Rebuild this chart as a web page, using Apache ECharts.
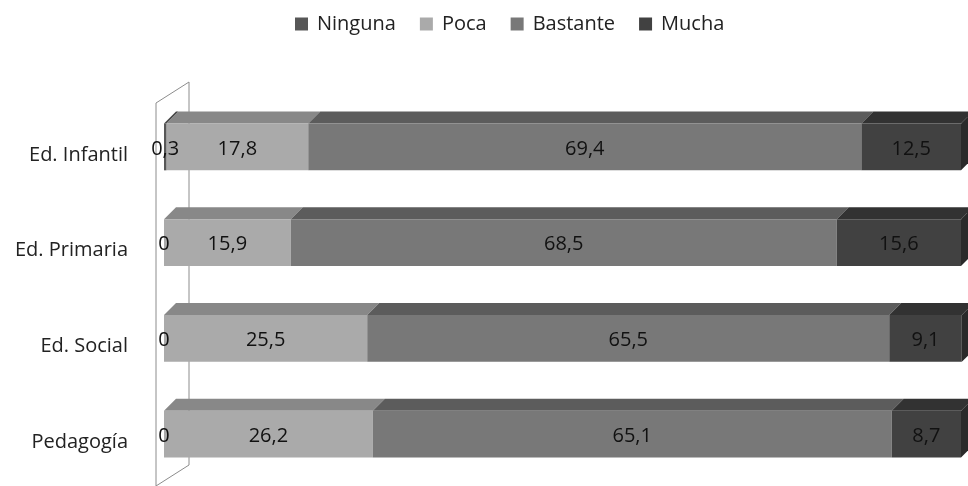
<!DOCTYPE html>
<html>
<head>
<meta charset="utf-8">
<script src="https://cdn.jsdelivr.net/npm/echarts@6/dist/echarts.min.js"></script>
<style>
html, body { margin: 0; padding: 0; background: #fff; }
#chart { width: 968px; height: 486px; }
</style>
</head>
<body>
<div id="chart"></div>
<script>
// Data
var categories = ['Ed. Infantil', 'Ed. Primaria', 'Ed. Social', 'Pedagogía'];
var seriesNames = ['Ninguna', 'Poca', 'Bastante', 'Mucha'];
var ninguna = [0.3, 0, 0, 0];
var poca = [17.8, 15.9, 25.5, 26.2];
var bastante = [69.4, 68.5, 65.5, 65.1];
var mucha = [12.5, 15.6, 9.1, 8.7];

var values = [ninguna, poca, bastante, mucha];

// Face colours (front / top) per series
var frontColors = ['#575757', '#aaaaaa', '#787878', '#414141'];
var topColors = ['#474747', '#888888', '#5c5c5c', '#323232'];
var sideColor = '#2a2a2a';
var DX = 12, DY = 12;

var fmt = function (v) {
    return String(v).replace('.', ',');
};

// Build stacked [start, end, category, value] rows for each series
var stacked = [];
var running = categories.map(function () { return 0; });
values.forEach(function (arr) {
    stacked.push(arr.map(function (v, i) {
        var row = [running[i], running[i] + v, i, v];
        running[i] += v;
        return row;
    }));
});

var renderItem = function (params, api) {
    var s = params.seriesIndex;
    var start = api.value(0), end = api.value(1), ci = api.value(2), v = api.value(3);
    var p0 = api.coord([start, ci]);
    var p1 = api.coord([end, ci]);
    var h = api.size([0, 1])[1] * 0.49;
    var x0 = p0[0], x1 = p1[0];
    var yT = p0[1] - h / 2, yB = p0[1] + h / 2;
    var children = [];
    if (x1 - x0 > 0.5) {
        children.push({
            type: 'polygon',
            shape: { points: [[x0, yT], [x1, yT], [x1 + DX, yT - DY], [x0 + DX, yT - DY]] },
            style: { fill: topColors[s] }
        });
        children.push({
            type: 'rect',
            shape: { x: x0, y: yT, width: x1 - x0, height: yB - yT },
            style: { fill: frontColors[s] }
        });
    }
    if (s === values.length - 1) {
        children.push({
            type: 'polygon',
            shape: { points: [[x1, yT], [x1 + DX, yT - DY], [x1 + DX, yB - DY], [x1, yB]] },
            style: { fill: sideColor }
        });
    }
    children.push({
        type: 'text',
        z2: 10,
        style: {
            text: fmt(v),
            x: (x0 + x1) / 2,
            y: p0[1] + 2,
            align: 'center',
            verticalAlign: 'middle',
            font: '20px "Open Sans"',
            fill: '#111'
        }
    });
    return { type: 'group', children: children };
};

var chart = echarts.init(document.getElementById('chart'));

chart.setOption({
    animation: false,
    textStyle: { fontFamily: '"Open Sans", sans-serif' },
    legend: {
        data: seriesNames,
        top: 9,
        left: 290,
        icon: 'rect',
        itemWidth: 13,
        itemHeight: 13,
        itemGap: 24,
        textStyle: { fontSize: 20, color: '#222', padding: [0, 0, 0, 4] }
    },
    grid: {
        left: 164,
        right: 7,
        top: 99,
        bottom: 4
    },
    xAxis: {
        type: 'value',
        min: 0,
        max: 100,
        show: false
    },
    yAxis: {
        type: 'category',
        inverse: true,
        data: categories,
        axisLine: { show: false },
        axisTick: { show: false },
        axisLabel: {
            margin: 36,
            fontSize: 20,
            color: '#222',
            verticalAlign: 'top',
            lineHeight: 16
        }
    },
    // Back / side walls of the 3D frame
    graphic: [
        { type: 'polyline', z: -1, shape: { points: [[156, 490], [156, 103], [189, 82], [189, 465], [156, 486]] },
          style: { stroke: '#8c8c8c', lineWidth: 1, fill: null } }
    ],
    series: seriesNames.map(function (name, s) {
        return {
            name: name,
            type: 'custom',
            z: s === 0 ? 4 : 2,
            itemStyle: { color: frontColors[s] },
            encode: { x: [0, 1], y: 2 },
            renderItem: renderItem,
            data: stacked[s]
        };
    })
});
</script>
</body>
</html>
